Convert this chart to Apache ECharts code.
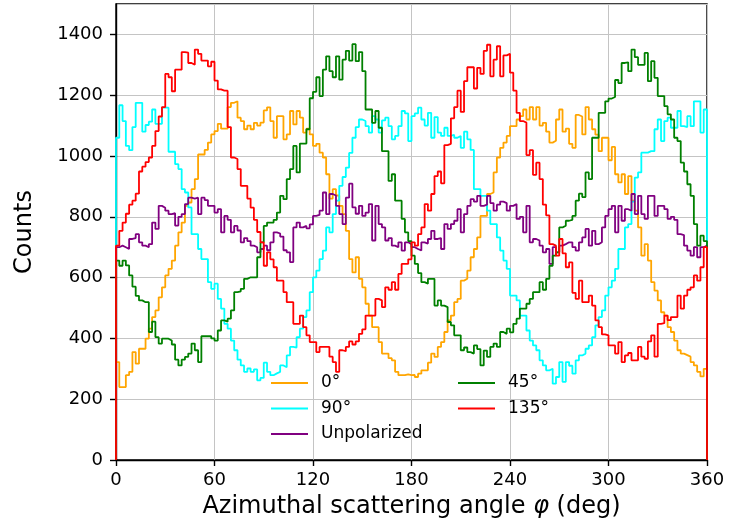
<!DOCTYPE html>
<html>
<head>
<meta charset="utf-8">
<script src="https://cdn.jsdelivr.net/npm/echarts@6/dist/echarts.min.js"></script>
<style>
  html, body { margin: 0; padding: 0; background: #ffffff; }
  #chart { width: 732px; height: 526px; }
</style>
</head>
<body>
<div id="chart"></div>
<script>
// Histogram bins: 180 bins of 2 degrees over 0..360
const binWidth = 2;
const xTicks = [0, 60, 120, 180, 240, 300, 360];
const yTicks = [0, 200, 400, 600, 800, 1000, 1200, 1400];

const seriesNames = ['0°', '90°', 'Unpolarized', '45°', '135°'];

const counts0 = [
  322, 240, 240, 279, 290, 355, 317, 366, 366, 399,
  432, 470, 492, 535, 568, 607, 629, 656, 705, 749,
  781, 836, 847, 891, 924, 1005, 1005, 1020, 1044, 1071,
  1082, 1106, 1090, 1090, 1161, 1175, 1180, 1126, 1115, 1088,
  1100, 1088, 1109, 1100, 1110, 1150, 1160, 1115, 1060, 1131,
  1131, 1055, 1071, 1148, 1104, 1148, 1126, 1077, 1090, 1071,
  1033, 1040, 1011, 995, 940, 860, 891, 870, 836, 809,
  754, 661, 617, 667, 596, 568, 514, 475, 437, 437,
  388, 350, 350, 335, 328, 290, 279, 279, 282, 279,
  280, 273, 284, 295, 295, 320, 350, 339, 372, 388,
  421, 459, 475, 519, 530, 590, 596, 623, 667, 694,
  732, 803, 803, 875, 880, 946, 995, 1027, 1044, 1066,
  1098, 1098, 1120, 1131, 1153, 1120, 1161, 1120, 1161, 1100,
  1109, 1080, 1044, 1050, 1120, 1153, 1080, 1090, 1040, 1027,
  1135, 1130, 1071, 1161, 1120, 1088, 1070, 1016, 1060, 1060,
  986, 1030, 940, 913, 940, 875, 934, 853, 820, 765,
  672, 710, 656, 585, 557, 525, 486, 475, 437, 421,
  393, 361, 350, 345, 340, 322, 311, 290, 275, 300
];

const counts90 = [
  1060, 1167, 1115, 1033, 1019, 1095, 1175, 1175, 1080, 1102,
  1113, 1153, 1106, 1106, 1159, 1159, 1014, 1014, 973, 957,
  891, 880, 831, 743, 743, 694, 661, 661, 585, 563,
  580, 530, 498, 448, 432, 393, 361, 330, 311, 290,
  301, 290, 298, 262, 270, 320, 290, 279, 285, 290,
  311, 305, 344, 372, 370, 404, 432, 470, 492, 552,
  601, 623, 661, 689, 765, 749, 809, 853, 902, 931,
  962, 1010, 1060, 1095, 1120, 1115, 1098, 1077, 1131, 1120,
  1077, 1117, 1126, 1098, 1055, 1066, 1098, 1148, 1140, 1049,
  1131, 1140, 1159, 1120, 1100, 1142, 1060, 1128, 1077, 1066,
  1093, 1066, 1070, 1060, 1066, 1027, 1080, 1055, 1020, 891,
  891, 869, 869, 820, 776, 776, 732, 689, 656, 629,
  541, 541, 525, 475, 475, 426, 393, 377, 361, 328,
  311, 295, 300, 251, 273, 322, 257, 322, 310, 284,
  328, 344, 350, 366, 377, 404, 443, 470, 492, 541,
  568, 590, 629, 694, 694, 765, 776, 850, 929, 946,
  1011, 1011, 1016, 1016, 1088, 1120, 1049, 1115, 1126, 1093,
  1093, 1148, 1098, 1095, 1131, 1098, 1180, 1180, 1077, 1153
];

const counts45 = [
  656, 639, 656, 640, 607, 570, 540, 525, 519, 519,
  421, 455, 404, 383, 399, 399, 393, 380, 330, 311,
  330, 339, 350, 383, 361, 322, 407, 407, 407, 400,
  393, 426, 459, 455, 465, 492, 552, 555, 563, 596,
  601, 601, 601, 667, 716, 770, 781, 781, 790, 814,
  869, 858, 924, 957, 1033, 946, 1041, 1041, 1088, 1190,
  1211, 1259, 1197, 1284, 1328, 1279, 1259, 1328, 1251, 1317,
  1346, 1314, 1368, 1312, 1342, 1279, 1153, 1153, 1109, 1148,
  1093, 1016, 1016, 918, 940, 853, 853, 793, 749, 720,
  672, 645, 615, 585, 580, 596, 596, 508, 525, 508,
  503, 454, 443, 410, 410, 361, 370, 355, 350, 377,
  365, 311, 360, 339, 372, 383, 372, 421, 415, 432,
  420, 448, 465, 498, 498, 514, 530, 552, 552, 585,
  560, 596, 639, 672, 683, 765, 771, 787, 790, 803,
  853, 876, 865, 946, 924, 1060, 1060, 1142, 1142, 1180,
  1189, 1194, 1250, 1240, 1306, 1308, 1279, 1350, 1325, 1300,
  1300, 1339, 1246, 1312, 1257, 1197, 1197, 1164, 1137, 1120,
  1060, 1049, 978, 949, 907, 869, 776, 705, 738, 720
];

const counts135 = [
  705, 754, 781, 810, 840, 853, 876, 949, 965, 980,
  995, 1033, 1082, 1130, 1161, 1270, 1259, 1213, 1284, 1284,
  1342, 1340, 1306, 1300, 1350, 1336, 1314, 1314, 1295, 1310,
  1248, 1219, 1215, 1215, 1095, 995, 990, 957, 902, 902,
  860, 830, 790, 750, 716, 639, 683, 660, 634, 590,
  590, 552, 519, 519, 448, 448, 475, 437, 410, 388,
  388, 355, 372, 372, 372, 340, 322, 290, 361, 358,
  372, 390, 380, 390, 415, 430, 475, 475, 475, 530,
  525, 503, 568, 560, 585, 560, 612, 645, 645, 660,
  716, 705, 743, 765, 842, 820, 875, 934, 949, 910,
  1036, 1040, 1124, 1161, 1215, 1145, 1246, 1292, 1292, 1222,
  1290, 1270, 1346, 1366, 1262, 1317, 1361, 1262, 1331, 1336,
  1274, 1215, 1142, 1115, 1110, 1003, 1019, 938, 978, 924,
  840, 805, 710, 705, 672, 727, 680, 634, 650, 550,
  530, 590, 519, 519, 541, 508, 459, 437, 413, 410,
  377, 377, 350, 388, 322, 344, 352, 328, 328, 372,
  340, 333, 390, 410, 340, 448, 450, 475, 460, 470,
  470, 541, 498, 541, 560, 568, 607, 590, 634, 700
];

const countsUnpol = [
  700, 705, 700, 694, 727, 730, 743, 716, 705, 700,
  710, 781, 760, 836, 830, 820, 809, 812, 771, 800,
  809, 842, 863, 860, 863, 809, 863, 855, 836, 836,
  814, 825, 749, 803, 790, 749, 770, 755, 716, 730,
  720, 705, 700, 683, 694, 705, 690, 716, 749, 745,
  735, 690, 683, 651, 765, 781, 765, 770, 762, 775,
  803, 806, 820, 880, 809, 875, 870, 836, 809, 776,
  863, 909, 831, 810, 836, 803, 814, 842, 722, 836,
  776, 765, 722, 730, 705, 700, 716, 689, 716, 710,
  700, 694, 689, 716, 712, 727, 754, 727, 730, 694,
  776, 760, 776, 787, 825, 749, 809, 836, 858, 850,
  869, 836, 840, 869, 845, 820, 840, 850, 845, 820,
  836, 842, 793, 800, 749, 836, 716, 727, 722, 705,
  683, 694, 645, 700, 683, 705, 710, 716, 716, 700,
  689, 716, 732, 760, 705, 754, 710, 716, 765, 803,
  825, 836, 749, 836, 787, 825, 820, 875, 809, 869,
  809, 793, 869, 869, 803, 836, 836, 825, 793, 800,
  790, 743, 740, 705, 689, 672, 700, 667, 700, 705
];

const seriesValues = [counts0, counts90, countsUnpol, counts45, counts135];
const seriesColors = ['#ffa500', '#00ffff', '#800080', '#008000', '#ff0000'];

// Step outline of a histogram: rises from zero at the first edge,
// runs flat across each bin, and drops back to zero at the last edge.
function stepOutline(values) {
  const pts = [[0, 0]];
  values.forEach((v, i) => {
    pts.push([i * binWidth, v]);
    pts.push([(i + 1) * binWidth, v]);
  });
  pts.push([values.length * binWidth, 0]);
  return pts;
}

const FONT = 'DejaVu Sans';
const chart = echarts.init(document.getElementById('chart'), null, { renderer: 'canvas' });

const legendCommon = {
  orient: 'vertical',
  icon: 'rect',
  itemWidth: 37,
  itemHeight: 2,
  itemGap: 6.5,
  padding: 0,
  selectedMode: false,
  textStyle: { fontFamily: FONT, fontSize: 17, color: '#000', lineHeight: 19, padding: [0, 0, 0, 8] }
};

chart.setOption({
  animation: false,
  backgroundColor: '#ffffff',
  grid: {
    left: 116, right: 25, top: 4, bottom: 66,
    show: true, borderColor: '#000', borderWidth: 1.4, backgroundColor: 'transparent'
  },
  legend: [
    Object.assign({}, legendCommon, { data: ['0°', '90°', 'Unpolarized'], left: 271, top: 373.5 }),
    Object.assign({}, legendCommon, { data: ['45°', '135°'], left: 458, top: 373.5 })
  ],
  xAxis: {
    type: 'value',
    min: xTicks[0], max: xTicks[xTicks.length - 1], interval: 60,
    name: 'Azimuthal scattering angle {i|φ} (deg)',
    nameLocation: 'middle',
    nameGap: 35,
    nameTextStyle: {
      fontFamily: FONT, fontSize: 24, color: '#000',
      rich: { i: { fontFamily: FONT, fontSize: 24, fontStyle: 'italic', color: '#000' } }
    },
    axisLine: { show: true, lineStyle: { color: '#000', width: 1.4 } },
    axisTick: { show: true, inside: false, length: 6, lineStyle: { color: '#000', width: 1.4 } },
    axisLabel: { fontFamily: FONT, fontSize: 18, color: '#000', margin: 11, formatter: v => String(v) },
    splitLine: { show: true, lineStyle: { color: '#c4c4c4', width: 1 } }
  },
  yAxis: {
    type: 'value',
    min: yTicks[0], max: 1500, interval: 200,
    name: 'Counts',
    nameLocation: 'middle',
    nameGap: 79,
    nameTextStyle: { fontFamily: FONT, fontSize: 24, color: '#000' },
    axisLine: { show: true, lineStyle: { color: '#000', width: 1.4 } },
    axisTick: { show: true, inside: false, length: 6, lineStyle: { color: '#000', width: 1.4 } },
    axisLabel: {
      fontFamily: FONT, fontSize: 18, color: '#000', margin: 13, showMaxLabel: false,
      formatter: v => String(v)
    },
    splitLine: { show: true, lineStyle: { color: '#c4c4c4', width: 1 } }
  },
  series: seriesNames.map((name, k) => ({
    name: name,
    type: 'line',
    data: stepOutline(seriesValues[k]),
    showSymbol: false,
    symbol: 'none',
    color: seriesColors[k],
    lineStyle: { color: seriesColors[k], width: 1.8 },
    z: 2 + k
  }))
});
</script>
</body>
</html>
